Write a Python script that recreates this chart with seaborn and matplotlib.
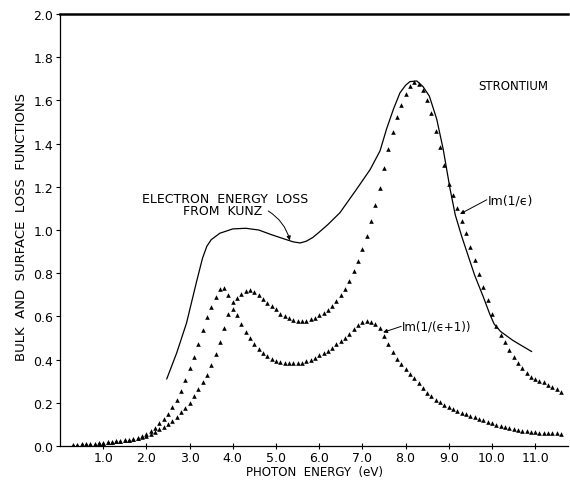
import numpy as np
import pandas as pd
import matplotlib
matplotlib.use("Agg")
import matplotlib.pyplot as plt
import seaborn as sns

# photon energy grid of the triangle points (eV)
energy = np.round(np.arange(0.3, 11.65, 0.1), 1)

# Im(1/(eps+1)) - surface loss function
surface = [
    0.005, 0.006, 0.007, 0.008, 0.010, 0.011, 0.013,              # 0.3-0.9
    0.015, 0.017, 0.019, 0.021, 0.024, 0.027, 0.030, 0.034, 0.039, 0.046,  # 1.0-1.9
    0.055, 0.068, 0.085, 0.105, 0.125, 0.150, 0.180, 0.215, 0.255, 0.305,  # 2.0-2.9
    0.360, 0.410, 0.470, 0.535, 0.595, 0.645, 0.690, 0.725, 0.730, 0.700,  # 3.0-3.9
    0.635, 0.605, 0.565, 0.530, 0.500, 0.472, 0.450, 0.430, 0.417, 0.405,  # 4.0-4.9
    0.395, 0.388, 0.384, 0.382, 0.382, 0.383, 0.386, 0.392, 0.400, 0.409,  # 5.0-5.9
    0.420, 0.430, 0.440, 0.454, 0.470, 0.485, 0.500, 0.520, 0.540, 0.560,  # 6.0-6.9
    0.575, 0.580, 0.575, 0.565, 0.545, 0.510, 0.472, 0.435, 0.405, 0.378,  # 7.0-7.9
    0.355, 0.335, 0.315, 0.290, 0.270, 0.247, 0.230, 0.215, 0.202, 0.191,  # 8.0-8.9
    0.181, 0.172, 0.163, 0.155, 0.147, 0.140, 0.133, 0.126, 0.119, 0.112,  # 9.0-9.9
    0.105, 0.098, 0.092, 0.087, 0.082, 0.078, 0.074, 0.071, 0.068, 0.066,  # 10.0-10.9
    0.064, 0.062, 0.061, 0.060, 0.059, 0.058, 0.057,                      # 11.0-11.6
]

# Im(1/eps) - bulk loss function
bulk = [
    0.005, 0.006, 0.007, 0.008, 0.010, 0.011, 0.013,
    0.015, 0.017, 0.019, 0.021, 0.024, 0.027, 0.030, 0.034, 0.038, 0.043,
    0.048, 0.056, 0.066, 0.077, 0.088, 0.100, 0.116, 0.135, 0.157, 0.178,
    0.200, 0.232, 0.262, 0.295, 0.330, 0.375, 0.425, 0.480, 0.545, 0.610,
    0.665, 0.685, 0.705, 0.718, 0.722, 0.712, 0.697, 0.680, 0.664, 0.650,
    0.632, 0.613, 0.600, 0.592, 0.585, 0.581, 0.580, 0.581, 0.587, 0.594,
    0.605, 0.615, 0.628, 0.646, 0.670, 0.698, 0.728, 0.765, 0.810, 0.855,
    0.910, 0.972, 1.040, 1.115, 1.195, 1.285, 1.375, 1.455, 1.525, 1.580,
    1.628, 1.668, 1.686, 1.678, 1.650, 1.600, 1.540, 1.460, 1.385, 1.300,
    1.215, 1.160, 1.100, 1.040, 0.985, 0.920, 0.860, 0.795, 0.735, 0.675,
    0.610, 0.555, 0.515, 0.480, 0.445, 0.410, 0.383, 0.360, 0.337, 0.320,
    0.310, 0.302, 0.294, 0.284, 0.274, 0.262, 0.248,
]

# electron energy loss from Kunz (solid curve)
kunz_e = [2.47, 2.7, 2.93, 3.16, 3.3, 3.4, 3.5, 3.7, 4.0, 4.3, 4.6, 4.9, 5.2,
          5.4, 5.56, 5.7, 5.85, 6.0, 6.2, 6.48, 6.87, 7.18, 7.41, 7.56, 7.72,
          7.87, 8.0, 8.1, 8.26, 8.4, 8.55, 8.72, 8.87, 9.03, 9.15, 9.3, 9.45,
          9.6, 9.8, 9.95, 10.05, 10.2, 10.49, 10.92]
kunz_v = [0.31, 0.43, 0.57, 0.76, 0.87, 0.925, 0.955, 0.985, 1.005, 1.008, 1.0,
          0.978, 0.958, 0.945, 0.94, 0.948, 0.965, 0.99, 1.025, 1.08, 1.19, 1.28,
          1.367, 1.468, 1.56, 1.635, 1.67, 1.687, 1.69, 1.665, 1.62, 1.514, 1.375,
          1.19, 1.07, 0.97, 0.88, 0.79, 0.69, 0.61, 0.565, 0.53, 0.488, 0.437]

xticks = [1, 2, 3, 4, 5, 6, 7, 8, 9, 10, 11]
xtick_labels = ["1.0", "2.0", "3.0", "4.0", "5.0", "6.0", "7.0", "8.0", "9.0", "10.0", "11.0"]
yticks = [0.0, 0.2, 0.4, 0.6, 0.8, 1.0, 1.2, 1.4, 1.6, 1.8, 2.0]
ytick_labels = ["0.0", "0.2", "0.4", "0.6", "0.8", "1.0", "1.2", "1.4", "1.6", "1.8", "2.0"]

sns.set_theme(style="ticks")
plt.rcParams['font.family'] = ['DejaVu Sans']

pts = pd.concat([
    pd.DataFrame({"E": energy, "v": surface, "s": "surface"}),
    pd.DataFrame({"E": energy, "v": bulk, "s": "bulk"}),
])
kunz = pd.DataFrame({"E": kunz_e, "v": kunz_v})

fig = plt.figure(figsize=(5.7, 4.81), dpi=100)
ax = fig.add_axes([60 / 570, 1 - 447 / 481, 508 / 570, 432 / 481])

sns.lineplot(data=kunz, x="E", y="v", color="black", lw=0.9, ax=ax, sort=False)
sns.scatterplot(data=pts, x="E", y="v", marker="^", color="black", s=11,
                linewidth=0, ax=ax, legend=False)

ax.set_xlim(0, 11.76)
ax.set_ylim(0, 2.0)
ax.set_xticks(xticks)
ax.set_xticklabels(xtick_labels)
ax.set_yticks(yticks)
ax.set_yticklabels(ytick_labels)
ax.tick_params(axis="x", direction="inout", length=5, width=0.8, pad=1, labelsize=9, colors="black")
ax.tick_params(axis="y", direction="out", length=3, width=0.8, pad=2, labelsize=9, colors="black")

ax.spines["right"].set_visible(False)
ax.spines["top"].set_linewidth(1.8)
for sp in ["left", "bottom", "top"]:
    ax.spines[sp].set_color("black")
ax.spines["left"].set_linewidth(0.9)
ax.spines["bottom"].set_linewidth(0.9)

ax.set_xlabel("PHOTON  ENERGY  (eV)", fontsize=8.5, color="black")
ax.set_ylabel("BULK  AND  SURFACE  LOSS  FUNCTIONS", fontsize=9.5, color="black")
ax.xaxis.set_label_coords(0.5, -0.044)
ax.yaxis.set_label_coords(-0.063, 0.51)

txt = dict(fontsize=9, color="black")
ax.text(3.82, 1.148, "ELECTRON  ENERGY  LOSS", ha="center", va="center", **txt)
ax.text(3.77, 1.088, "FROM  KUNZ", ha="center", va="center", **txt)
ax.annotate("", xy=(5.32, 0.952), xytext=(4.82, 1.088),
            arrowprops=dict(arrowstyle="-|>", color="black", lw=0.7,
                            mutation_scale=6, connectionstyle="arc3,rad=-0.2",
                            shrinkA=0, shrinkB=0))
ax.text(10.49, 1.671, "STRONTIUM", ha="center", va="center", fontsize=8.5, color="black")
ax.text(9.9, 1.14, "Im(1/ϵ)", ha="left", va="center", **txt)
ax.annotate("", xy=(9.26, 1.074), xytext=(9.88, 1.14),
            arrowprops=dict(arrowstyle="-|>", color="black", lw=0.7,
                            mutation_scale=6, shrinkA=0, shrinkB=0))
ax.text(7.92, 0.554, "Im(1/(ϵ+1))", ha="left", va="center", fontsize=8.5, color="black")
ax.annotate("", xy=(7.48, 0.526), xytext=(7.9, 0.554),
            arrowprops=dict(arrowstyle="-|>", color="black", lw=0.7,
                            mutation_scale=6, shrinkA=0, shrinkB=0))

fig.savefig("out.png", dpi=100)
